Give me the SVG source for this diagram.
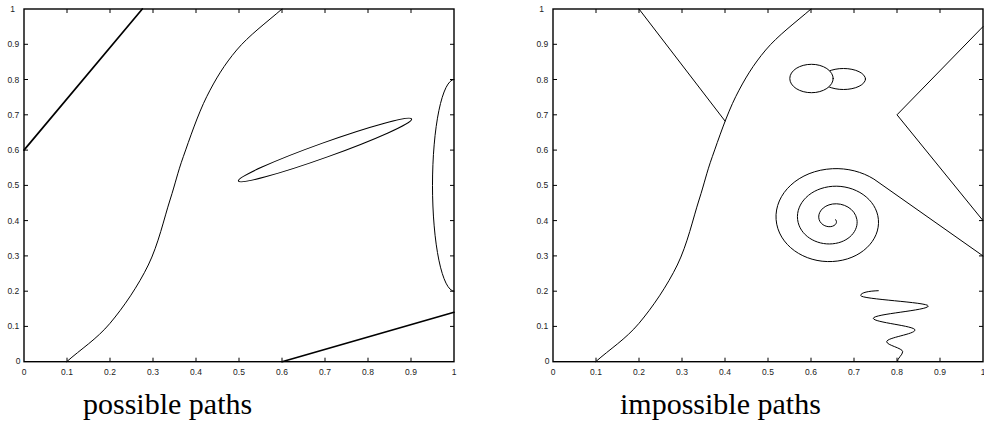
<svg xmlns="http://www.w3.org/2000/svg" width="984" height="423" viewBox="0 0 984 423">
<style>
.frame{fill:none;stroke:#000;stroke-width:1.4}
.tick{stroke:#000;stroke-width:1}
.tl{font-family:"Liberation Sans",Arial,sans-serif;font-size:8.5px;fill:#222;text-anchor:middle}
.cur{fill:none;stroke:#000;stroke-width:1;stroke-linejoin:round;stroke-linecap:round}
.thick{fill:none;stroke:#000;stroke-width:1.7;stroke-linecap:round}
.cap{font-family:"Liberation Serif","Times New Roman",serif;font-size:30px;fill:#000}
</style>
<defs>
<g id="ticks">
<path class="tick" d="M43,361.7v-4M86,361.7v-4M129,361.7v-4M172,361.7v-4M215,361.7v-4M258,361.7v-4M301,361.7v-4M344,361.7v-4M387,361.7v-4"/>
<path class="tick" d="M43,9v4M86,9v4M129,9v4M172,9v4M215,9v4M258,9v4M301,9v4M344,9v4M387,9v4"/>
<path class="tick" d="M0,326.4h4M0,291.2h4M0,255.9h4M0,220.6h4M0,185.4h4M0,150.1h4M0,114.8h4M0,79.5h4M0,44.3h4"/>
<path class="tick" d="M430,326.4h-4M430,291.2h-4M430,255.9h-4M430,220.6h-4M430,185.4h-4M430,150.1h-4M430,114.8h-4M430,79.5h-4M430,44.3h-4"/>
<rect class="frame" x="0" y="9" width="430" height="352.7"/>
</g>
<g id="labels">
<text class="tl" x="0" y="374.5">0</text>
<text class="tl" x="43" y="374.5">0.1</text>
<text class="tl" x="86" y="374.5">0.2</text>
<text class="tl" x="129" y="374.5">0.3</text>
<text class="tl" x="172" y="374.5">0.4</text>
<text class="tl" x="215" y="374.5">0.5</text>
<text class="tl" x="258" y="374.5">0.6</text>
<text class="tl" x="301" y="374.5">0.7</text>
<text class="tl" x="344" y="374.5">0.8</text>
<text class="tl" x="387" y="374.5">0.9</text>
<text class="tl" x="430" y="374.5">1</text>
<text class="tl" x="-5.8" y="364.3">0</text>
<text class="tl" x="-10.7" y="329.4">0.1</text>
<text class="tl" x="-10.7" y="294.2">0.2</text>
<text class="tl" x="-10.7" y="258.9">0.3</text>
<text class="tl" x="-10.7" y="223.6">0.4</text>
<text class="tl" x="-10.7" y="188.4">0.5</text>
<text class="tl" x="-10.7" y="153.1">0.6</text>
<text class="tl" x="-10.7" y="117.8">0.7</text>
<text class="tl" x="-10.7" y="82.5">0.8</text>
<text class="tl" x="-10.7" y="47.3">0.9</text>
<text class="tl" x="-11.5" y="12">1</text>
</g>
<path id="scurve" class="cur" d="M66.7,361.7 C81.1,348.9 96.4,339.4 110,323.3 C123.6,307.2 138.3,285.55 148.3,265 C158.3,244.45 164.2,218.05 170,200 C175.8,181.95 177.2,173.9 183.3,156.7 C189.4,139.5 197.8,114.5 206.7,96.7 C215.6,78.9 224.4,64.6 236.7,50 C249,35.4 266,22.9 282,9"/>
</defs>

<g id="plot-possible">
<use href="#ticks" x="24"/>
<use href="#labels" x="24"/>
<line class="thick" x1="24" y1="150.1" x2="142.3" y2="9"/>
<use href="#scurve"/>
<ellipse class="cur" cx="325" cy="150" rx="92" ry="7.3" transform="rotate(-19.7 325 150)"/>
<path class="cur" d="M454,79.5 A21.5,105.8 0 0 0 454,291.2"/>
<line class="thick" x1="282" y1="361.7" x2="454" y2="312.3"/>
<text class="cap" x="83" y="414">possible paths</text>
</g>

<g id="plot-impossible">
<use href="#ticks" x="553"/>
<use href="#labels" x="553"/>
<use href="#scurve" x="529"/>
<line class="cur" x1="639" y1="9" x2="725" y2="121"/>
<ellipse class="cur" cx="843.5" cy="79" rx="22" ry="10.5"/>
<ellipse class="cur" cx="811.5" cy="78.5" rx="21.7" ry="14.2" style="fill:#fff"/>
<path class="cur" d="M983,26.6 L897,114.8 L983,220.6"/>
<path class="cur" d="M835.4,219.5 C837.3,220.8 837.1,224.6 832.6,226.2 C828.1,227.8 821,225.6 819.1,219.5 C817.2,213.4 822.2,205.6 832.6,204 C843.1,202.5 855,208.5 856.9,219.5 C858.8,230.5 849,242.3 832.6,243.8 C816.2,245.4 799.5,235.4 797.6,219.5 C795.7,203.6 810.3,187.9 832.6,186.3 C854.9,184.8 876.5,198.8 878.4,219.5 C880.3,240.3 860.9,260 832.6,261.5 C804.3,263.1 778,245.1 776.1,219.5 C774.2,193.9 798.4,170.3 832.6,168.7 C847.2,168 861.8,171.6 873.9,179.1 L983,255.9"/>
<path class="cur" d="M878.3,290.7 C869,291 860.7,292.5 860.7,295.5 C860.7,299.3 928.3,302.2 928.3,306 C928.3,310.4 873.3,313.9 873.3,318.3 C873.3,322.5 915,325.8 915,330 C915,334.2 886.7,337.5 886.7,341.7 C886.7,345.3 902.7,348.1 902.7,351.7 C902.7,355 897.3,358 897.3,361.7"/>
<text class="cap" x="620" y="414">impossible paths</text>
</g>
</svg>
